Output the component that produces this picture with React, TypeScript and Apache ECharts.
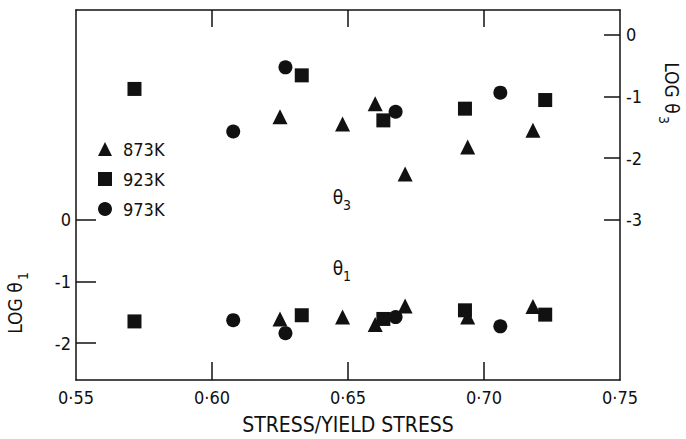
import React, { useEffect, useRef } from "react";
import * as echarts from "echarts";

// ---- data ----
const seriesNames = ["873K", "923K", "973K"];

const stress873 = [0.625, 0.648, 0.66, 0.671, 0.694, 0.718];
const logTheta3_873 = [-1.33, -1.45, -1.12, -2.26, -1.82, -1.55];
const logTheta1_873 = [-1.61, -1.58, -1.7, -1.4, -1.58, -1.41];

const stress923 = [0.5715, 0.633, 0.663, 0.693, 0.7225];
const logTheta3_923 = [-0.88, -0.66, -1.39, -1.2, -1.06];
const logTheta1_923 = [-1.65, -1.55, -1.61, -1.47, -1.54];

const stress973 = [0.6078, 0.627, 0.6675, 0.706];
const logTheta3_973 = [-1.57, -0.53, -1.25, -0.94];
const logTheta1_973 = [-1.63, -1.84, -1.58, -1.73];

const xTickValues = [0.55, 0.6, 0.65, 0.7, 0.75];
const xTickLabels = ["0·55", "0·60", "0·65", "0·70", "0·75"];
const xInnerTicks = [0.6, 0.65, 0.7];
const leftTicks = [0, -1, -2];
const rightTicks = [0, -1, -2, -3];

const FONT = '"DejaVu Sans Condensed", "Liberation Sans Narrow", "DejaVu Sans", sans-serif';
const INK = "#111111";

const zip = (xs: number[], ys: number[]) => xs.map((x, i) => [x, ys[i]]);

export default function App() {
  const ref = useRef<HTMLDivElement>(null);
  useEffect(() => {
    if (!ref.current) return;
    const chart = echarts.init(ref.current, undefined, { renderer: "svg" });
    const symbols = ["triangle", "rect", "circle"];
    const sizes = [15, 14, 14];
    const groups = [
      [stress873, logTheta1_873, logTheta3_873],
      [stress923, logTheta1_923, logTheta3_923],
      [stress973, logTheta1_973, logTheta3_973],
    ];
    const series: any[] = [];
    groups.forEach((g, i) => {
      [1, 2].forEach((k) => {
        series.push({
          name: seriesNames[i],
          type: "scatter",
          symbol: symbols[i],
          symbolSize: sizes[i],
          xAxisIndex: 0,
          yAxisIndex: k - 1,
          itemStyle: { color: INK, opacity: 1 },
          emphasis: { disabled: true },
          data: zip(g[0], g[k]),
        });
      });
    });
    const axisLine = { onZero: false, lineStyle: { color: INK, width: 1.5 } };
    const tickStyle = { color: INK, width: 1.5 };
    const option: any = {
      animation: false,
      grid: { left: 76, right: 66, top: 10, bottom: 59, containLabel: false },
      legend: {
        orient: "vertical",
        left: 93,
        top: 135,
        itemWidth: 14,
        itemHeight: 14,
        itemGap: 12,
        textStyle: { fontFamily: FONT, fontSize: 18, color: INK, padding: [0, 0, 0, 6] },
        data: seriesNames.map((n, i) => ({ name: n, icon: symbols[i], itemStyle: { color: INK, opacity: 1 } })),
        selectedMode: false,
      },
      xAxis: [
        {
          type: "value",
          position: "bottom",
          min: 0.55,
          max: 0.75,
          interval: 0.05,
          axisLine,
          axisTick: { show: true, inside: true, length: 18, customValues: xInnerTicks, lineStyle: tickStyle },
          axisLabel: {
            customValues: xTickValues,
            formatter: (v: number) => {
              const idx = xTickValues.findIndex((t) => Math.abs(t - v) < 1e-6);
              return idx >= 0 ? xTickLabels[idx] : "";
            },
            fontFamily: FONT,
            fontSize: 18,
            color: INK,
            margin: 8,
          },
          splitLine: { show: false },
        },
        {
          type: "value",
          position: "top",
          min: 0.55,
          max: 0.75,
          interval: 0.05,
          axisLine,
          axisTick: { show: true, inside: true, length: 17, customValues: xInnerTicks, lineStyle: tickStyle },
          axisLabel: { show: false },
          splitLine: { show: false },
        },
      ],
      yAxis: [
        {
          type: "value",
          position: "left",
          min: -2.6,
          max: 3.4,
          axisLine,
          axisTick: { show: true, inside: true, length: 20, customValues: leftTicks, lineStyle: tickStyle },
          axisLabel: { customValues: leftTicks, fontFamily: FONT, fontSize: 18, color: INK, margin: 5, formatter: (v: number) => String(v) },
          splitLine: { show: false },
        },
        {
          type: "value",
          position: "right",
          min: -5.6,
          max: 0.4,
          axisLine,
          axisTick: { show: true, inside: true, length: 16, customValues: rightTicks, lineStyle: tickStyle },
          axisLabel: { customValues: rightTicks, fontFamily: FONT, fontSize: 18, color: INK, margin: 6, formatter: (v: number) => String(v) },
          splitLine: { show: false },
        },
      ],
      graphic: [
        { type: "text", x: 348, y: 425, style: { text: "STRESS/YIELD STRESS", font: `21px ${FONT}`, fill: INK, textAlign: "center", textVerticalAlign: "middle" } },
        { type: "text", x: 338, y: 197, style: { text: "θ", font: `19px ${FONT}`, fill: INK, textAlign: "center", textVerticalAlign: "middle" } },
        { type: "text", x: 347, y: 205, style: { text: "3", font: `14px ${FONT}`, fill: INK, textAlign: "center", textVerticalAlign: "middle" } },
        { type: "text", x: 338, y: 268, style: { text: "θ", font: `19px ${FONT}`, fill: INK, textAlign: "center", textVerticalAlign: "middle" } },
        { type: "text", x: 347, y: 276, style: { text: "1", font: `14px ${FONT}`, fill: INK, textAlign: "center", textVerticalAlign: "middle" } },
        { type: "text", x: 15, y: 308, rotation: Math.PI / 2, style: { text: "LOG θ", font: `19px ${FONT}`, fill: INK, textAlign: "center", textVerticalAlign: "middle" } },
        { type: "text", x: 23, y: 276, rotation: Math.PI / 2, style: { text: "1", font: `14px ${FONT}`, fill: INK, textAlign: "center", textVerticalAlign: "middle" } },
        { type: "text", x: 672, y: 88, rotation: -Math.PI / 2, style: { text: "LOG θ", font: `19px ${FONT}`, fill: INK, textAlign: "center", textVerticalAlign: "middle" } },
        { type: "text", x: 664, y: 120, rotation: -Math.PI / 2, style: { text: "3", font: `14px ${FONT}`, fill: INK, textAlign: "center", textVerticalAlign: "middle" } },
      ],
      series,
    };
    chart.setOption(option);
    return () => chart.dispose();
  }, []);
  return (
    <div
      ref={ref}
      style={{ position: "fixed", left: 0, top: 0, width: 686, height: 439, background: "#fff" }}
    />
  );
}
